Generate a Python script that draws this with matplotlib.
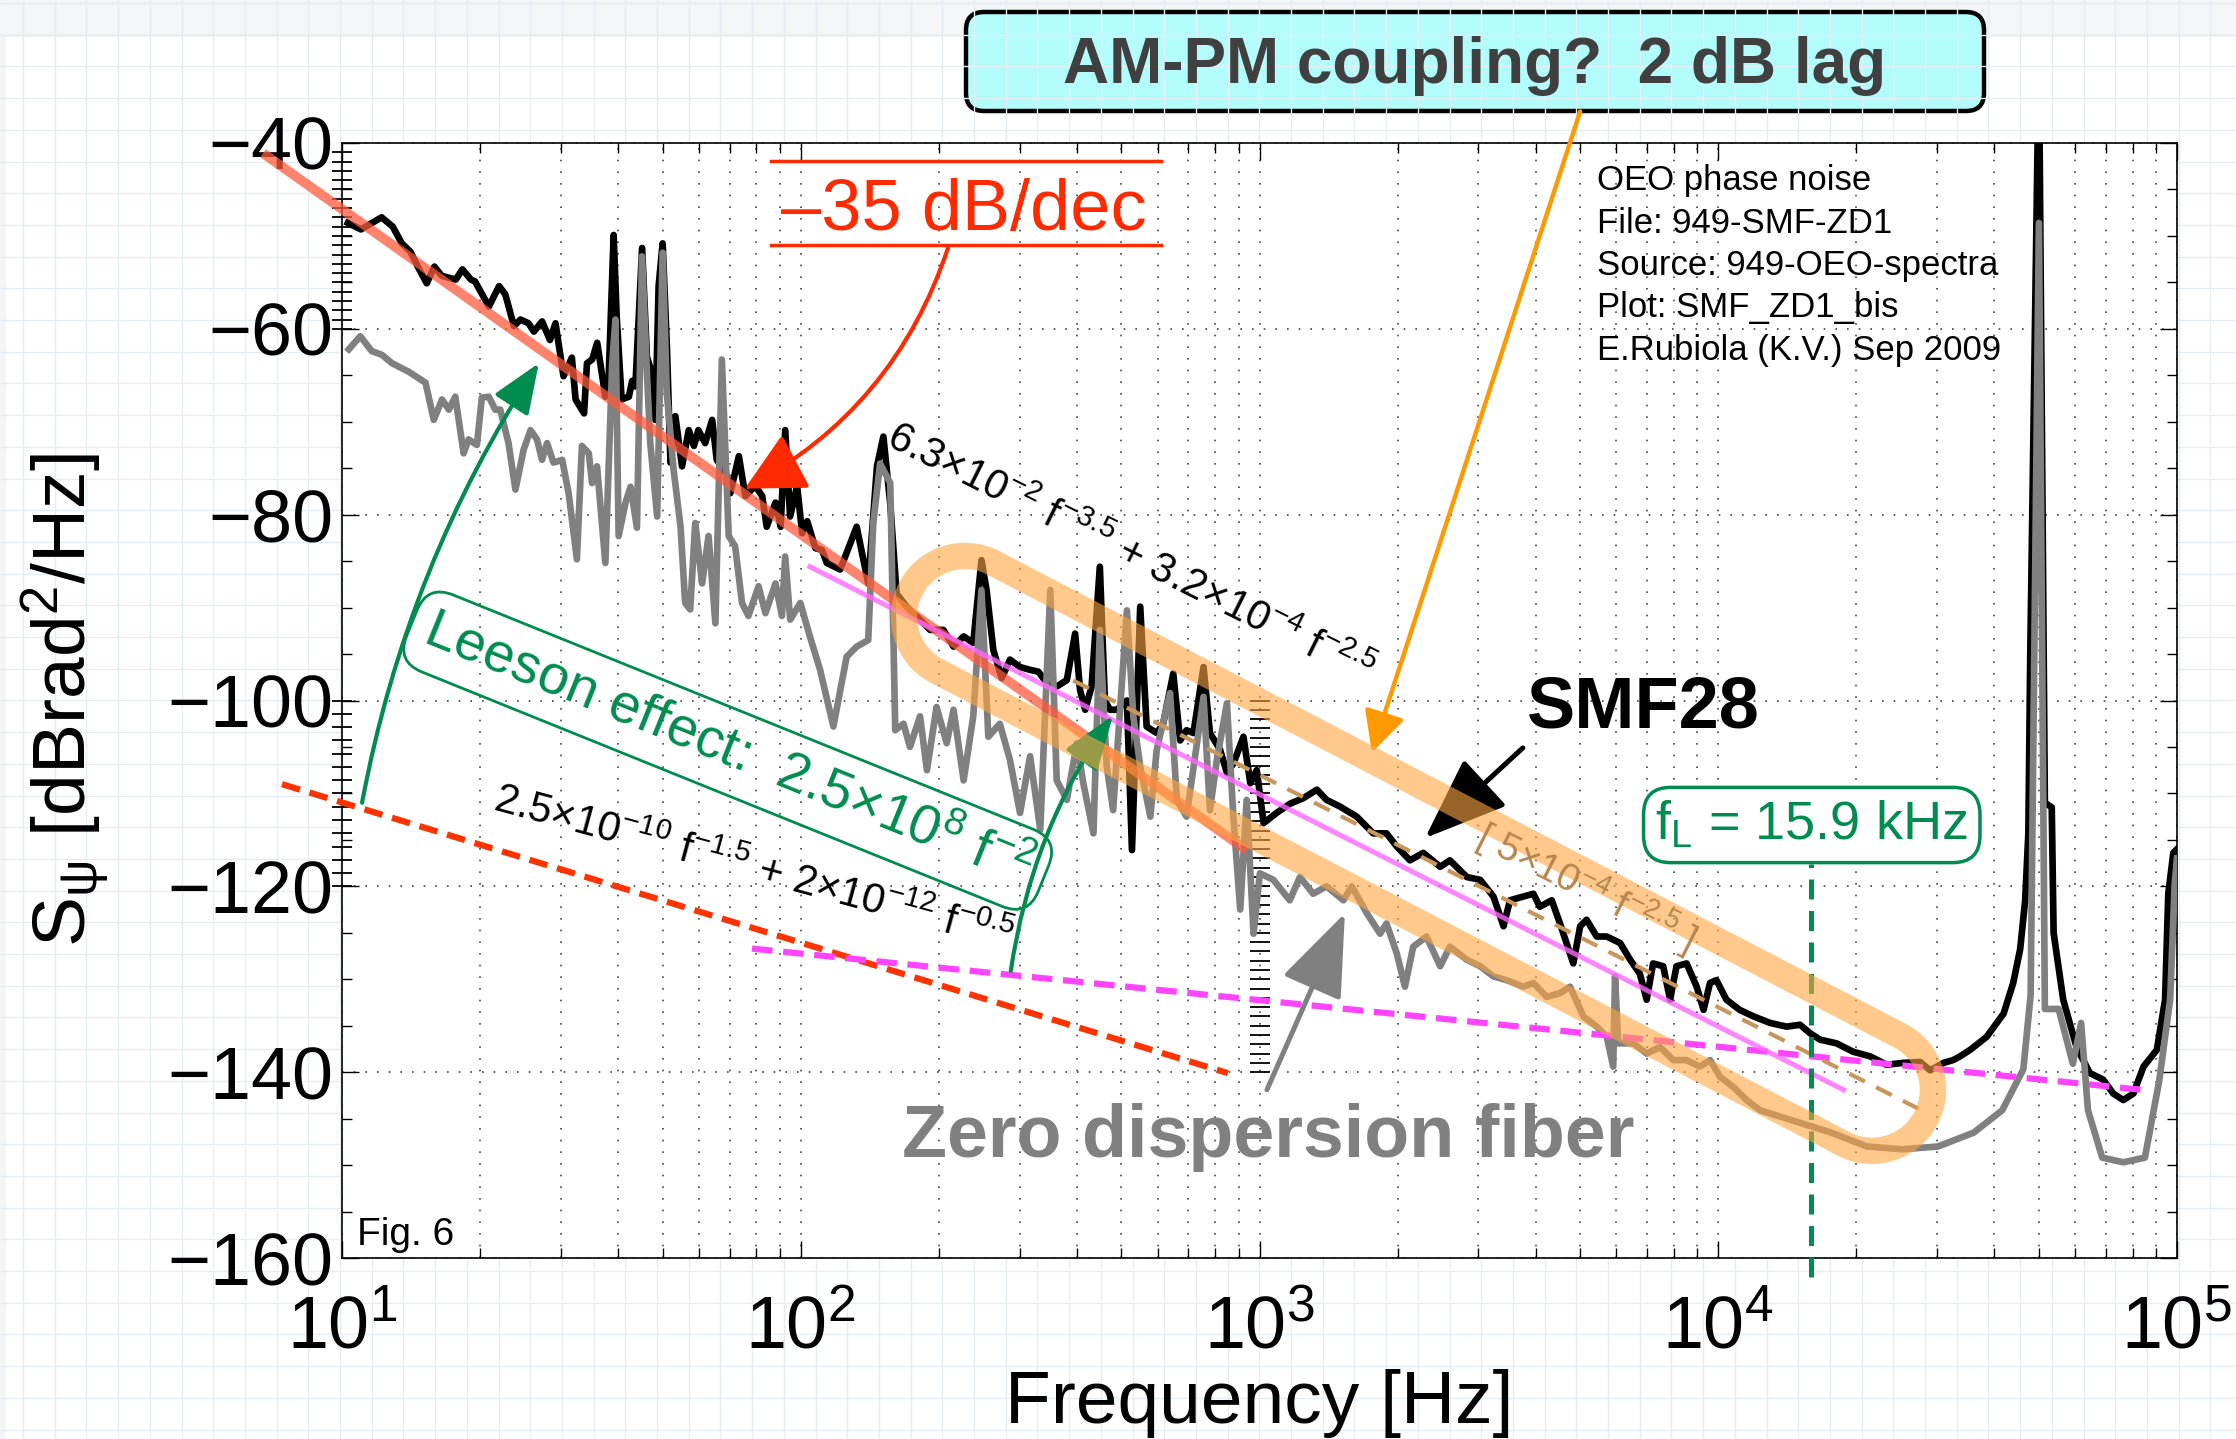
import numpy as np
import matplotlib
matplotlib.use('Agg')
import matplotlib.pyplot as plt
from matplotlib.patches import FancyBboxPatch, Rectangle
from matplotlib.ticker import LogLocator, MultipleLocator, NullFormatter

plt.rcParams['font.family'] = ['Liberation Sans', 'DejaVu Sans']
plt.rcParams['mathtext.fontset'] = 'custom'
plt.rcParams['mathtext.rm'] = 'Liberation Sans'
plt.rcParams['mathtext.it'] = 'Liberation Sans:italic'
plt.rcParams['mathtext.bf'] = 'Liberation Sans:bold'
plt.rcParams['mathtext.default'] = 'regular'

# --- SMF28 phase noise (black) ---
smf_f = [10.3, 11.0, 12.2, 12.9, 13.5, 14.1, 14.7, 15.3, 15.9, 16.5,
         17.7, 18.3, 19.1, 19.5, 20.9, 22.0, 22.7, 23.7, 24.5, 25.5,
         26.2, 27.3, 28.4, 29.2, 30.4, 31.7, 32.3, 33.7, 34.2, 35.1,
         36.0, 37.5, 38.1, 39.1, 39.7, 40.7, 42.2, 42.9, 43.6, 45.1,
         46.2, 47.4, 48.2, 49.0, 50.0, 51.1, 52.0, 53.3, 55.1, 57.0,
         58.5, 59.8, 61.9, 64.1, 65.6, 68.6, 70.2, 73.3, 75.7, 79.6,
         82.4, 84.3, 88.1, 90.4, 92.5, 94.8, 98.2, 100.7, 103.3, 107.6,
         111.2, 114.0, 121.9, 132.4, 140.3, 146.6, 151.4, 156.7, 161.8, 170.2,
         182.0, 191.4, 204.6, 215.3, 226.5, 237.7, 247.7, 254.1, 263.0, 274.2,
         285.8, 300.6, 316.2, 329.6, 343.6, 361.4, 380.2, 396.3, 406.4, 416.9,
         430.5, 448.7, 460.3, 472.1, 488.7, 514.0, 527.2, 549.5, 567.5, 597.0,
         616.6, 648.6, 671.4, 693.4, 717.8, 755.1, 779.8, 820.4, 849.2, 877.0,
         922.6, 955.0, 986.3, 1021, 1089, 1167, 1247, 1334, 1400, 1496,
         1629, 1770, 1892, 1991, 2128, 2275, 2477, 2600, 2831, 3027,
         3236, 3404, 3516, 3758, 3954, 4083, 4335, 4519, 4831, 5000,
         5164, 5433, 5715, 6109, 6427, 6745, 6982, 7211, 7586, 7852,
         8110, 8531, 8974, 9290, 9594, 9908, 10420, 11140, 11940, 12970,
         14090, 15070, 15850, 16670, 18110, 19680, 21430, 23280, 25290, 27540,
         28970, 30970, 32510, 33650, 35400, 38460, 41880, 43950, 45500, 46670,
         47420, 47860, 50000, 51520, 53330, 53830, 56490, 60390, 64570, 69020,
         72610, 76380, 80350, 84530, 90360, 94190, 95720, 98170, 100000]
smf_db = [-48.6, -49.3, -48.0, -49.0, -50.8, -51.7, -53.5, -55.1, -53.3, -54.3,
          -54.7, -53.6, -54.7, -54.9, -57.6, -55.4, -56.3, -59.7, -59.0, -59.4,
          -60.3, -59.2, -61.2, -59.4, -65.1, -63.1, -67.6, -69.1, -63.7, -63.3,
          -61.5, -67.3, -65.8, -49.9, -58.7, -67.6, -67.3, -65.6, -66.2, -51.3,
          -63.0, -64.8, -69.8, -55.4, -50.8, -62.2, -74.4, -69.4, -74.8, -70.9,
          -72.6, -70.9, -72.3, -69.8, -74.1, -75.5, -77.7, -73.7, -78.0, -76.9,
          -78.0, -81.3, -78.7, -81.3, -70.9, -80.2, -76.9, -82.0, -80.7, -83.6,
          -83.8, -85.2, -85.9, -81.3, -87.4, -74.8, -71.6, -78.8, -88.5, -89.9,
          -91.3, -92.4, -92.4, -94.2, -93.1, -93.8, -84.9, -88.1, -94.6, -97.6,
          -95.6, -96.4, -96.7, -96.9, -98.1, -98.5, -97.8, -92.8, -98.9, -101.0,
          -98.5, -85.6, -100.0, -101.0, -101.0, -100.0, -116.1, -89.9, -102.8, -103.5,
          -102.5, -97.1, -104.3, -103.2, -103.5, -96.4, -103.5, -105.3, -107.8, -106.8,
          -103.9, -108.9, -107.5, -113.2, -112.1, -111.1, -110.5, -109.6, -110.7, -111.4,
          -112.5, -114.3, -114.3, -115.7, -117.2, -116.4, -117.9, -117.2, -119.0, -119.3,
          -121.1, -124.3, -121.5, -121.1, -120.8, -122.2, -121.5, -124.0, -128.3, -124.3,
          -123.6, -125.4, -125.4, -126.1, -127.9, -129.4, -132.2, -128.3, -128.6, -132.2,
          -128.6, -128.3, -130.8, -133.3, -130.4, -130.1, -132.2, -133.3, -134.0, -134.7,
          -135.1, -134.9, -135.8, -136.5, -136.9, -137.8, -138.3, -139.2, -139.0, -138.9,
          -139.8, -139.0, -138.7, -138.3, -137.6, -136.2, -133.7, -130.4, -126.8, -121.5,
          -114.3, -95.6, -30.0, -111.0, -111.5, -125.0, -132.2, -137.3, -140.1, -140.8,
          -142.3, -143.0, -142.3, -139.4, -137.6, -132.2, -120.8, -116.4, -116.0]

# --- zero dispersion fiber (gray) ---
zd_f = [10.35, 10.96, 11.61, 12.22, 12.85, 13.96, 15.21, 15.85, 16.52, 17.10,
        17.66, 18.41, 18.88, 19.68, 20.18, 20.89, 21.58, 22.13, 23.07, 23.88,
        24.89, 25.76, 26.61, 27.29, 27.99, 28.91, 30.20, 31.19, 32.51, 33.34,
        34.51, 35.08, 35.97, 37.50, 38.82, 39.45, 40.09, 41.50, 42.56, 43.95,
        45.08, 46.24, 46.99, 48.64, 50.00, 51.05, 52.84, 54.70, 55.98, 57.41,
        58.88, 60.95, 62.95, 65.16, 67.30, 69.66, 71.94, 74.47, 76.91, 80.91,
        83.75, 88.10, 90.99, 92.47, 94.84, 99.77, 104.7, 110.2, 117.8, 125.9,
        132.4, 140.3, 143.9, 148.9, 156.7, 160.7, 167.5, 173.0, 182.0, 188.4,
        197.7, 208.0, 215.3, 226.5, 237.7, 247.7, 256.4, 271.6, 285.8, 300.6,
        316.2, 332.7, 349.9, 361.4, 380.2, 399.9, 413.0, 434.5, 448.7, 464.5,
        479.7, 514.0, 530.9, 549.5, 578.1, 597.0, 638.3, 660.7, 693.4, 755.1,
        779.8, 807.2, 849.2, 877.0, 907.8, 937.6, 970.5, 1002, 1072, 1164,
        1225, 1309, 1400, 1524, 1589, 1714, 1832, 1892, 1991, 2075,
        2163, 2312, 2477, 2600, 2831, 3027, 3236, 3459, 3758, 3954,
        4227, 4519, 4753, 5082, 5433, 5715, 5902, 5957, 6053, 6531,
        6982, 7464, 7980, 8531, 9120, 9594, 10090, 10790, 11530, 12330,
        17620, 21090, 25180, 30130, 36060, 41590, 46240, 47970, 50000, 51520,
        55210, 59290, 61800, 63970, 68710, 76380, 85110, 91410, 96610, 98860,
        100000]
zd_db = [-62.2, -60.8, -62.4, -62.8, -63.7, -64.6, -65.8, -69.8, -67.6, -68.7,
         -67.3, -73.4, -71.9, -72.5, -67.4, -67.3, -68.7, -68.7, -72.3, -77.3,
         -73.0, -70.9, -71.9, -74.1, -72.3, -74.4, -74.1, -77.7, -84.8, -72.6,
         -73.4, -76.6, -74.8, -85.2, -63.7, -59.0, -82.3, -78.7, -77.0, -81.4,
         -52.2, -65.1, -72.3, -80.2, -51.8, -66.9, -75.2, -81.3, -89.5, -90.2,
         -80.9, -87.4, -82.3, -91.7, -63.3, -82.3, -83.4, -89.5, -90.9, -87.7,
         -90.6, -87.4, -90.9, -84.5, -91.3, -89.5, -93.1, -96.7, -102.8, -95.3,
         -94.2, -93.5, -80.9, -74.5, -76.6, -103.2, -102.5, -105.0, -101.7, -107.5,
         -100.7, -104.6, -101.0, -108.6, -101.7, -88.1, -103.9, -102.5, -106.4, -112.1,
         -106.0, -113.9, -88.1, -108.6, -110.7, -104.6, -108.9, -114.3, -92.4, -107.1,
         -111.8, -90.3, -101.7, -107.1, -112.5, -105.3, -99.2, -110.7, -112.5, -99.6,
         -111.8, -106.4, -100.3, -112.5, -122.5, -110.7, -125.1, -118.6, -119.3, -121.5,
         -119.0, -120.8, -120.0, -121.5, -120.0, -122.9, -125.1, -124.0, -127.2, -130.8,
         -126.5, -125.4, -128.6, -126.5, -127.9, -128.6, -129.7, -130.1, -130.8, -130.4,
         -131.9, -131.5, -130.8, -134.0, -135.1, -136.2, -139.4, -129.7, -136.9, -136.9,
         -138.0, -137.3, -138.7, -138.7, -139.4, -138.7, -140.5, -141.6, -143.0, -144.1,
         -146.5, -148.0, -148.3, -148.0, -146.5, -144.1, -139.7, -131.7, -48.6, -133.2,
         -133.2, -139.1, -134.7, -144.1, -149.2, -149.7, -149.2, -141.0, -132.2, -119.7,
         -117.0]

# --- fitted power laws (end points) ---
fit35_f, fit35_db = [6.73, 937.6], [-41.1, -116.1]        # -35 dB/dec
fit_mag_f, fit_mag_db = [104.7, 18750], [-85.6, -141.9]    # 6.3e-2 f^-3.5 + 3.2e-4 f^-2.5
fit_brn_f, fit_brn_db = [392.6, 28000], [-97.85, -144.2]   # 5e-4 f^-2.5
fit15_f, fit15_db = [7.40, 853], [-109.0, -140.1]          # 2.5e-10 f^-1.5
fit05_f, fit05_db = [78.3, 84000], [-126.7, -141.9]        # 2e-12 f^-0.5
f_leeson = 15.9e3
cap_f, cap_db = [228, 21630], [-91.0, -141.9]              # highlighted region

RED = '#ff2a00'
GREEN = '#008c4f'
ORANGE = '#ff9900'

W, H = 2236, 1439
fig = plt.figure(figsize=(W / 100, H / 100), dpi=100)
fig.patch.set_facecolor('#f4f5f6')

# slide background with faint grid
bg = fig.add_axes([0, 0, 1, 1], zorder=-10)
bg.set_xlim(0, W)
bg.set_ylim(H, 0)
bg.axis('off')
bg.vlines(np.arange(23, W, 31.7), 0, H, color='#e3edf2', lw=1)
bg.hlines(np.arange(3, H, 31.7), 0, W, color='#e3edf2', lw=1)
bg.add_patch(Rectangle((6, 37), W, H, facecolor='white', edgecolor='none'))
bg.add_patch(FancyBboxPatch((966, 12), 1018, 99, boxstyle='round,pad=0,rounding_size=18',
                            facecolor='#b3fcfc', edgecolor='black', lw=3.2))
bg.text(1475, 66, 'AM-PM coupling?  2 dB lag', ha='center', va='center',
        fontsize=46, fontweight='bold', color='#404040')

ax = fig.add_axes([342 / W, 1 - 1258 / H, 1835 / W, 1115 / H])
ax.set_xscale('log')
ax.set_xlim(10, 1e5)
ax.set_ylim(-160, -40)

ax.xaxis.set_major_locator(LogLocator(base=10, numticks=10))
ax.xaxis.set_minor_locator(LogLocator(base=10, subs=np.arange(2, 10), numticks=50))
ax.xaxis.set_minor_formatter(NullFormatter())
ax.yaxis.set_major_locator(MultipleLocator(20))
ax.yaxis.set_minor_locator(MultipleLocator(5))
ax.tick_params(which='both', direction='in', top=True, right=True, width=1)
ax.tick_params(which='major', length=12, labelsize=53)
ax.tick_params(which='minor', length=7)
ax.tick_params(axis='x', which='major', pad=26)
ax.tick_params(axis='y', which='major', pad=6)
for s in ax.spines.values():
    s.set_linewidth(1.2)
ax.grid(True, which='major', axis='both', ls=(0, (1, 6)), lw=1.2, color='#444444')
ax.grid(True, which='minor', axis='x', ls=(0, (1, 6)), lw=1.2, color='#444444')
ax.set_axisbelow(True)

ax.set_xlabel('Frequency [Hz]', fontsize=54)
ax.xaxis.set_label_coords(0.5, -0.1)
ax.set_ylabel(r'S$_\psi$ [dBrad$^2$/Hz]', fontsize=54)
ax.yaxis.set_label_coords(-0.125, 0.5)

# stray tick rulers left over from the stitched sub-plots
ax.plot(np.full(20, 10.0), np.arange(-41, -61, -1.0), ls='none', marker='_', ms=15,
        mew=1.3, color='k', clip_on=False, zorder=2)
ax.plot(np.full(15, 10.0), np.linspace(-100, -120, 15), ls='none', marker='_', ms=15,
        mew=1.3, color='k', clip_on=False, zorder=2)
ax.plot(np.full(41, 1000.0), np.arange(-100, -141, -1.0), ls='none', marker='_', ms=15,
        mew=1.3, color='k', zorder=2)

# spectra
ax.plot(smf_f, smf_db, color='black', lw=4.8, zorder=3, solid_joinstyle='round')
ax.plot(zd_f, zd_db, color='#808080', lw=4.8, zorder=4, solid_joinstyle='round')

# power-law fits
ax.plot(fit15_f, fit15_db, color='#ff3300', lw=4.5, dashes=(3, 1.6), zorder=5, clip_on=False)
ax.plot(fit05_f, fit05_db, color='#ff44ff', lw=4.5, dashes=(3.3, 1.7), zorder=5)
ax.plot(fit35_f, fit35_db, color='#ff5a3c', lw=7, alpha=0.75, zorder=6, clip_on=False,
        solid_capstyle='butt')
ax.plot(fit_mag_f, fit_mag_db, color='#ff66ff', lw=3.6, alpha=0.8, zorder=6)
ax.plot(fit_brn_f, fit_brn_db, color='#c8965a', lw=3, dashes=(4.2, 3), zorder=6)
ax.plot([f_leeson, f_leeson], [-162, -117.6], color=GREEN, lw=3.6, dashes=(4, 2.3),
        zorder=6, clip_on=False)


def capsule(ax, f_ends, db_ends, r_px, n=60):
    p = ax.transData.transform(np.column_stack([f_ends, db_ends]))
    d = p[1] - p[0]
    ang = np.arctan2(d[1], d[0])
    t1 = np.linspace(ang + np.pi / 2, ang + 3 * np.pi / 2, n)
    t2 = np.linspace(ang - np.pi / 2, ang + np.pi / 2, n)
    a1 = p[0] + r_px * np.column_stack([np.cos(t1), np.sin(t1)])
    a2 = p[1] + r_px * np.column_stack([np.cos(t2), np.sin(t2)])
    pts = np.vstack([a1, a2, a1[:1]])
    return ax.transData.inverted().transform(pts)


def arrow(xy, xytext, color, lw, hl, hw, rad=0.0):
    ax.annotate('', xy=xy, xytext=xytext, annotation_clip=False, zorder=7,
                arrowprops=dict(arrowstyle='-|>,head_length=%g,head_width=%g' % (hl, hw),
                                mutation_scale=10, color=color, lw=lw, shrinkA=0, shrinkB=0,
                                connectionstyle='arc3,rad=%g' % rad, clip_on=False))


# arrows
arrow((75.5, -77.2), (209.4, -51.3), RED, 3, 3.7, 1.9, rad=-0.2)
arrow((1758, -105.6), (5000, -36.6), ORANGE, 3.2, 2.5, 1.27)
arrow((2296, -114.8), (3750, -105.1), 'black', 3.6, 5.2, 2.0)
arrow((1535, -122.9), (1038, -141.9), '#808080', 3.6, 5.2, 2.0)
arrow((26.85, -63.7), (11.06, -111.0), GREEN, 3, 3.1, 1.25, rad=-0.1)
arrow((479.6, -101.6), (287, -129.1), GREEN, 3, 3.4, 1.2, rad=-0.12)

cp = capsule(ax, cap_f, cap_db, 61)
ax.plot(cp[:, 0], cp[:, 1], color='#ffa640', alpha=0.6, lw=19, zorder=8,
        solid_joinstyle='round', solid_capstyle='round')

# labels
ax.plot([86.1, 609.5], [-41.9, -41.9], color=RED, lw=2.5, zorder=9)
ax.plot([86.1, 609.5], [-51.0, -51.0], color=RED, lw=2.5, zorder=9)
ax.text(227, -47.4, '\u201335 dB/dec', color=RED, fontsize=52, ha='center', va='center', zorder=10)

ax.text(5445, -42.3, 'OEO phase noise\nFile: 949-SMF-ZD1\nSource: 949-OEO-spectra\n'
        'Plot: SMF_ZD1_bis\nE.Rubiola (K.V.) Sep 2009', fontsize=25, ha='left', va='top',
        linespacing=1.36, zorder=10)

ax.text(522, -84.4, '6.3\u00d710$^{-2}$ f$^{-3.5}$ + 3.2\u00d710$^{-4}$ f$^{-2.5}$',
        fontsize=30, rotation=-26.5, rotation_mode='anchor', ha='center', va='center', zorder=10)
ax.text(6855, -100.9, 'SMF28', fontsize=52, fontweight='bold', ha='center', va='center', zorder=10)
ax.text(5150, -120.1, '[ 5\u00d710$^{-4}$ f$^{-2.5}$ ]', fontsize=28, color='#b8864b',
        rotation=-26.8, rotation_mode='anchor', ha='center', va='center', zorder=10)
ax.text(15990, -113.4, 'f$_\\mathregular{L}$ = 15.9 kHz', fontsize=39, color=GREEN,
        ha='center', va='center', zorder=10,
        bbox=dict(boxstyle='round,pad=0.22,rounding_size=0.5', fc='white', ec=GREEN, lw=2.5))
ax.text(1042, -147.0, 'Zero dispersion fiber', fontsize=53, fontweight='bold', color='#808080',
        ha='center', va='center', zorder=10)
ax.text(69.3, -105.4, 'Leeson effect:  2.5\u00d710$^{8}$ f$^{-2}$', fontsize=40, color=GREEN,
        rotation=-22, rotation_mode='anchor', ha='center', va='center', zorder=10,
        bbox=dict(boxstyle='round,pad=0.28,rounding_size=0.5', fc='none', ec=GREEN, lw=2))
ax.text(78.7, -118.2, '2.5\u00d710$^{-10}$ f$^{-1.5}$ + 2\u00d710$^{-12}$ f$^{-0.5}$',
        fontsize=30, rotation=-15.2, rotation_mode='anchor', ha='center', va='center', zorder=10)
ax.text(10.8, -158.6, 'Fig. 6', fontsize=28, ha='left', va='baseline', zorder=10)

fig.savefig('out.png', dpi=100, facecolor=fig.get_facecolor())
